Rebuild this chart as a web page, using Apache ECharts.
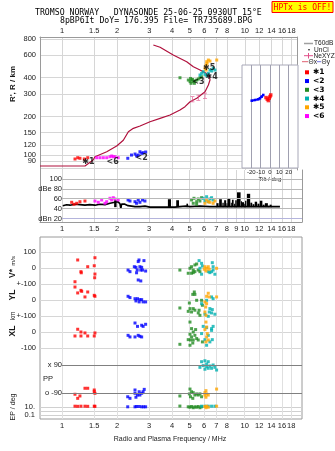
<!DOCTYPE html>
<html><head><meta charset="utf-8">
<script src="https://cdn.jsdelivr.net/npm/echarts@6/dist/echarts.min.js"></script>
<style>html,body{margin:0;padding:0;background:#fff}#c{width:335px;height:451px}</style>
</head><body><div id="c"></div><script>
// ---------- data ----------
const freqTicks = [1,1.5,2,3,4,5,6,7,8,10,12,14,16,18];
const freqTicksMid = [1,1.5,2,3,4,5,6,7,8,9,10,12,14,16,18];
const heightTicks = [80,90,100,120,150,200,300,400,600,800];
const dbTicks = [20,40,60,80,100];
const tiltTicks = [-20,-10,0,10,20];

const profileFreq = [0.758,1.336,1.48,1.515,1.757,1.991,2.165,2.307,2.457,2.673,3.03,3.44,3.9,4.42,4.71,5.02,5.46,6.06,6.32,6.45,6.40,5.69,5.23,4.81,4.06,3.44,3.16];
const profileHeight = [82.6,82.6,92,97.5,106.6,118,130.8,152.5,162,168.8,182.3,193.7,205.5,225,238.5,260.6,277,311.8,351.6,384.5,420,459,487.6,533,601,689.5,718];

const neFreq = [5.17,5.57,6.06];
const neHeight = [272,280,290];

const modeNames = ['✱1','<2','<3','✱4','✱5','<6'];
const modeColors = ['#ff0000','#0000ff','#228b22','#00b0b0','#ffa500','#ff00ff'];
const modeLabelFreq = [1.393,2.73,5.57,6.59,6.38,1.895];
const modeLabelHeight = [89.2,95.8,373,407,478,89.2];

// virtual heights (km)
const m1F = [1.178,1.219,1.254,1.324,1.383];
const m1H = [93.6,95.8,94.8,93.6,95.8];
const m2F = [2.29,2.40,2.51,2.56,2.67,2.73,2.78,2.87,2.614];
const m2H = [94.8,100.5,102.3,98.8,106.6,103.6,104.8,106.1,100.5];
const m3F = [4.42,4.91,5.02,5.12,5.23,5.34,5.46,5.57,5.69,5.81,5.08,5.30,5.05,5.18];
const m3H = [400,384,373,384,373,378,384,391,400,407,362,362,395,388];
const m4F = [5.81,5.93,6.06,6.19,6.32,6.59,6.72,6.87,5.69,6.45];
const m4H = [433,446,425,415,433,451,474,459,420,459];
const m5F = [6.19,6.32,6.45,6.14,6.06,7.02,6.22,6.14];
const m5H = [533,549,539,502,474,549,518,459];
const m6F = [1.548,1.614,1.683,1.757,1.831,1.871,1.909,1.95,2.03];
const m6H = [95.8,95.8,95.8,95.8,97.5,98.8,97.5,97.5,95.8];

// amplitudes (dB)
const noiseFreq = [1.01,1.06,1.106,1.178,1.254,1.336,1.42,1.515,1.614,1.719,1.831,1.95,2.02,2.075,2.10,2.12,2.21,2.30,2.51,2.67,2.845,3.03,3.44,3.80,4.15,4.42,4.77,5.02,5.69,6.45,7.3,8.3,9.4,10.7,12.1,13.75,15.6];
const noiseDb = [46,48,47,49,48,47,48,47,49,48,51,53,54,50,40,49,49,46,44,44,45,43,43,43,43,44,45,44,45,44,44,44,44,44,44,44,44];
const spikeBase = 43;
const spikeLo = [1.93,3.80,4.22,4.80,7.0,7.25,7.55,7.72,7.95,8.05,8.4,8.52,8.75,8.88,9.08,9.55,9.65,9.95,10.05,10.28,10.75,11.05,11.35,11.75,12.1,12.55,12.9,13.45,13.7];
const spikeHi = [1.99,3.95,4.37,4.90,7.2,7.5,7.68,7.92,8.02,8.35,8.5,8.7,8.85,9.05,9.5,9.62,9.92,10.02,10.22,10.72,11.0,11.3,11.7,12.05,12.5,12.85,13.4,13.65,14.05];
const spikeTop = [57,59,57,50,51,59,52,57,51,60,52,58,50,57,73,55,53,50,56,70,52,49,54,50,56,48,51,46,48];
const a1F = [1.13,1.204,1.254,1.336,1.163];
const a1D = [52.8,50.8,54,55.4,48.8];
const a2F = [2.30,2.356,2.51,2.614,2.67,2.76,2.845,2.56];
const a2D = [57.5,55.4,54,57.5,52.8,57.5,55.4,50.8];
const a3F = [5.12,5.28,5.46,5.57,5.69,5.23,5.81,5.46];
const a3D = [57.5,60.9,54,59.5,55.4,50.8,62.1,48.8];
const a4F = [5.93,6.19,6.45,6.59,6.72,6.06,6.32];
const a4D = [60.9,64.1,59.5,62.1,57.5,55.4,54];
const a5F = [6.19,6.32,6.45,6.87,6.72,6.06];
const a5D = [57.5,54,52.8,55.4,50.8,50.8];
const a6F = [1.515,1.58,1.649,1.757,1.831,1.871,1.909,1.95,2.03,1.719];
const a6D = [55.4,52.8,57.5,54,60.9,57.5,62.1,59.5,57.5,50.8];

// V* (m/s)
const v1F = [1.219,1.383,1.502,1.515,1.27,1.275,1.515,1.51,1.178];
const v1V = [52,10,16,66,-21,-28,-36,-59,-84];
const v2F = [2.30,2.356,2.489,2.54,2.614,2.64,2.81,2.67,2.73,2.56,2.58,2.70,2.76,2.87,2.614,2.70];
const v2V = [-11,-21,10,6,42,52,48,10,6,-28,-11,-11,-11,-17,-73,-79];
const v3F = [4.42,5.02,5.12,5.23,5.34,5.46,4.91,5.12,5.34,5.57,5.69,5.23];
const v3V = [-11,0,10,-11,21,27,-31,-31,-21,-11,-21,-27];
const v4F = [5.63,5.81,5.87,5.69,6.32,6.45,6.65,6.72,6.87,5.81,6.59,6.72];
const v4V = [48,31,14,0,-21,-27,35,-11,-37,-37,-21,10];
const v5F = [6.06,6.19,6.32,6.14,7.02,6.01,6.40];
const v5V = [10,0,10,-17,0,-6,-6];
// YL (km)
const y1F = [1.178,1.27,1.219,1.282,1.383,1.336,1.502,1.515];
const y1V = [83,62,46,56,52,21,31,25];
const y2F = [2.30,2.356,2.51,2.54,2.59,2.67,2.73,2.78,2.87,2.645];
const y2V = [25,17,10,-4,10,4,4,-10,-10,-10];
const y3F = [5.30,5.20,5.34,4.98,5.46,5.81,5.87,4.42,5.02,5.12,5.23,5.34,5.57,5.69,4.91,5.63];
const y3V = [52,37,37,-17,0,0,-31,-48,-52,-73,-52,-62,-79,-94,-69,-62];
const y4F = [5.81,6.19,6.59,6.72,6.45,6.65,6.40,6.06,6.32,6.87,6.59];
const y4V = [-21,0,21,10,-52,-58,-73,-87,-100,-87,-79];
const y5F = [6.32,6.19,6.40,7.02,6.06,6.19,6.12,6.06,6.14];
const y5V = [44,25,21,21,-10,-21,-42,-73,-94];
// XL (km)
const x1F = [1.219,1.27,1.336,1.178,1.27,1.383,1.515,1.502];
const x1V = [19,2,-4,-23,-23,-23,-4,-23];
const x2F = [2.51,2.59,2.73,2.78,2.87,2.30,2.356,2.51,2.614,2.67,2.73];
const x2V = [58,37,44,37,50,-19,-29,-29,-19,-25,-29];
const x3F = [5.02,5.12,5.39,5.23,5.02,5.12,5.34,4.91,5.05,5.23,5.46,5.57,4.42,5.02,5.20,5.87];
const x3V = [64,23,17,2,-12,-29,-19,-46,-48,-48,-39,-48,-75,-81,-67,-60];
const x4F = [5.93,6.19,6.59,6.72,6.59,5.81,6.32,6.06,6.65,6.19,6.45];
const x4V = [37,29,23,37,12,-8,-19,-46,-46,-81,-60];
const x5F = [6.14,6.19,6.06,6.24,6.19,6.32,6.14];
const x5V = [64,33,17,-8,-29,-48,-60];
// PP (deg)
const p1F = [1.178,1.219,1.254,1.336,1.383,1.502,1.515,1.502];
const p1V = [-96,-122,-107,-58,-58,-69,-90,-80];
const p2F = [2.29,2.356,2.51,2.51,2.59,2.645,2.73,2.78,2.82,2.67,2.54];
const p2V = [-112,-122,-69,-90,-101,-80,-90,-80,-65,-101,-115];
const p3F = [5.02,5.12,5.23,4.98,5.34,5.46,5.57,5.69,4.42,5.05,5.20,5.81];
const p3V = [-63,-80,-86,-94,-101,-94,-101,-94,-107,-112,-122,-112];
const p4F = [5.81,6.06,6.32,5.93,6.19,6.45,6.72,6.87,5.69,6.59,6.06,6.32,7.02,6.19];
const p4V = [111,117,111,86,79,84,90,75,75,69,63,69,58,96];
const p5F = [6.14,6.06,6.19,6.32,6.14,7.02,6.06];
const p5V = [-73,-86,-94,-101,-115,-63,-101];
// EP (deg)
const e1F = [1.178,1.219,1.27,1.336,1.383,1.502,1.515];
const e1V = [14,13,14,14,13,14,13];
const e2F = [2.29,2.51,2.56,2.645,2.73,2.80,2.87];
const e2V = [10,10,12,12,10,10,10];
const e3F = [4.42,4.91,5.02,5.12,5.23,5.34,5.46,5.57,5.69,5.81];
const e3V = [15,10,8,12,6,10,8,12,6,10];
const e4F = [5.81,6.06,6.32,6.59,6.87];
const e4V = [14,14,14,14,14];
const e5F = [6.06,6.14,6.19,6.32,7.02];
const e5V = [12,6,14,8,14];
// tilt (deg)
const tiltBlueX = [-19.6,-16.1,-12.5,-10.7,-8.9,-7.2];
const tiltBlueY = [16.9,17.6,18.4,19.4,21.2,23];
const tiltRedX = [-4.3,-2.9,-1.8,0,0.8,-0.8];
const tiltRedY = [20.2,18.5,17,21.3,23,19.6];

// ---------- chart ----------
const FMIN = 0.758, FMAX_TOP = 19.3, FMAX = 20.6;
const SANS = 'Liberation Sans';
const MONO = 'DejaVu Sans Mono';
const GRIDC = '#d6d6d6', BORDER = '#9a9a9a', LBL = '#1a1a1a';
const pts = (a, b) => a.map((v, i) => [v, b[i]]);

function xLog(grid, max, extra) {
  return Object.assign({
    type: 'log', logBase: 10, gridIndex: grid, min: FMIN, max: max,
    axisLine: { show: false, onZero: false }, axisTick: { show: false, customValues: freqTicks },
    axisLabel: { show: false, customValues: freqTicks },
    splitLine: { show: false }
  }, extra || {});
}
const lblStyle = { fontFamily: SANS, fontSize: 7.5, color: LBL, hideOverlap: false };

const xAxis = [
  xLog(0, FMAX_TOP, { position: 'top', axisLine: { show: true, onZero: false, lineStyle: { color: BORDER } },
    axisLabel: Object.assign({ show: true, margin: 2, customValues: freqTicks }, lblStyle),
    splitLine: { show: true, lineStyle: { color: GRIDC, width: 1 } } }),
  xLog(1, FMAX, { position: 'bottom', axisLine: { show: true, onZero: false, lineStyle: { color: BORDER } },
    axisTick: { show: false, customValues: freqTicksMid },
    axisLabel: Object.assign({ show: true, margin: 3, customValues: freqTicksMid }, lblStyle),
    splitLine: { show: true, lineStyle: { color: GRIDC, width: 1 } } }),
  xLog(2, FMAX, { position: 'bottom',
    axisLabel: Object.assign({ show: true, margin: 3, customValues: freqTicks }, lblStyle),
    splitLine: { show: true, lineStyle: { color: '#e0e0e0', width: 1 } } }),
  xLog(3, FMAX), xLog(4, FMAX), xLog(5, FMAX), xLog(6, FMAX), xLog(7, FMAX),
  { type: 'value', gridIndex: 8, min: -30, max: 30, z: 2,
    axisLine: { show: false, onZero: false }, axisTick: { show: false, customValues: tiltTicks },
    axisLabel: { show: true, customValues: tiltTicks, fontFamily: SANS, fontSize: 6, color: LBL, margin: 1, hideOverlap: false },
    splitLine: { show: true, lineStyle: { color: '#a0a0b0', width: 1 } },
    name: 'Tilt / deg', nameLocation: 'middle', nameGap: 8, nameTextStyle: { fontFamily: SANS, fontSize: 6, color: LBL } }
];

function rightBorder(grid) {
  return { type: 'value', gridIndex: grid, position: 'right', axisLine: { show: true, onZero: false, lineStyle: { color: BORDER } },
    axisTick: { show: false }, axisLabel: { show: false }, splitLine: { show: false } };
}
function subY(grid, ticks, fmt) {
  return { type: 'value', gridIndex: grid, min: -100, max: 100,
    axisLine: { show: false, onZero: false }, axisTick: { show: false, customValues: [-100, 0, 100] },
    axisLabel: Object.assign({ show: true, margin: 4, customValues: ticks, formatter: fmt }, lblStyle),
    splitLine: { show: true, lineStyle: { color: GRIDC, width: 1 } } };
}
const yAxis = [
  { type: 'log', logBase: 10, gridIndex: 0, min: 76.9, max: 828.6,
    axisLine: { show: true, onZero: false, lineStyle: { color: BORDER } }, axisTick: { show: false, customValues: heightTicks },
    axisLabel: Object.assign({ show: true, margin: 4, customValues: heightTicks }, lblStyle),
    splitLine: { show: true, lineStyle: { color: GRIDC, width: 1 } } },
  rightBorder(0),
  { type: 'value', gridIndex: 1, min: 12.9, max: 118.2,
    axisLine: { show: true, onZero: false, lineStyle: { color: BORDER } }, axisTick: { show: false, customValues: dbTicks },
    axisLabel: Object.assign({ show: true, margin: -22, align: 'right', padding: [0, 0, 4, 0], customValues: dbTicks,
      formatter: v => v === 80 ? 'dBe 80' : (v === 20 ? 'dBn 20' : String(v)) }, lblStyle),
    splitLine: { show: false } },
  rightBorder(1),
  { type: 'value', gridIndex: 2, min: 0, max: 1, show: false },
  subY(3, [0, 100], v => String(v)),
  subY(4, [0, 100], v => v === 100 ? '+-100' : '0'),
  subY(5, [-100, 0, 100], v => v === 100 ? '+-100' : String(v)),
  { type: 'value', gridIndex: 6, min: -90, max: 90,
    axisLine: { show: false, onZero: false }, axisTick: { show: false, customValues: [-90, 90] },
    axisLabel: Object.assign({ show: true, margin: -22, align: 'right', customValues: [-90, 90],
      formatter: v => v > 0 ? 'x 90' : 'o -90' }, lblStyle),
    splitLine: { show: false } },
  { type: 'log', logBase: 10, gridIndex: 7, min: 0.01, max: 1000,
    axisLine: { show: false, onZero: false }, axisTick: { show: false, customValues: [0.1, 1, 10] },
    axisLabel: Object.assign({ show: true, margin: 5, customValues: [0.1, 10], formatter: v => v >= 1 ? '10.' : '0.1' }, lblStyle),
    splitLine: { show: true, lineStyle: { color: '#d0d0d0', width: 1 } } },
  { type: 'value', gridIndex: 8, min: -55, max: 55, z: 2,
    axisLine: { show: false, onZero: false }, axisTick: { show: false }, axisLabel: { show: false }, splitLine: { show: false } }
];

const grid = [
  { left: 40, top: 37, width: 257, height: 133 },
  { left: 40, top: 170, width: 262, height: 52 },
  { left: 40, top: 237, width: 262, height: 182, show: true, borderColor: BORDER, borderWidth: 1, backgroundColor: 'transparent' },
  { left: 40, top: 252.3, width: 262, height: 32 },
  { left: 40, top: 284.3, width: 262, height: 32 },
  { left: 40, top: 316.3, width: 262, height: 32 },
  { left: 40, top: 365, width: 262, height: 28.3 },
  { left: 40, top: 398.5, width: 262, height: 20.75 },
  { left: 242, top: 65, width: 56, height: 103, show: true, borderColor: '#a8a8b8', borderWidth: 1, backgroundColor: '#fff', z: 1 }
].map(g => Object.assign({ containLabel: false, outerBoundsMode: 'none' }, g));

function sc(xi, yi, data, color, size, z) {
  return { type: 'scatter', xAxisIndex: xi, yAxisIndex: yi, data: data, symbol: 'rect', symbolSize: size || 3,
    itemStyle: { color: color }, silent: true, clip: false, animation: false, z: z || 3 };
}
const series = [];
// profile
series.push({ type: 'line', xAxisIndex: 0, yAxisIndex: 0, data: pts(profileFreq, profileHeight), showSymbol: false,
  lineStyle: { color: '#b0103c', width: 1.2 }, silent: true, animation: false, z: 2 });
// NeXYZ
series.push({ type: 'scatter', xAxisIndex: 0, yAxisIndex: 0, data: pts(neFreq, neHeight),
  symbol: 'path://M0,0h5v1h-2v6h2v1h-5v-1h2v-6h-2z', symbolSize: [4, 6], itemStyle: { color: '#e0508a' }, silent: true, animation: false, z: 3 });
// virtual heights
const topF = [m1F, m2F, m3F, m4F, m5F, m6F], topH = [m1H, m2H, m3H, m4H, m5H, m6H];
topF.forEach((f, i) => series.push(sc(0, 0, pts(f, topH[i]), modeColors[i], 3)));
// mode labels
modeNames.forEach((n, i) => series.push({ type: 'scatter', xAxisIndex: 0, yAxisIndex: 0, data: [[modeLabelFreq[i], modeLabelHeight[i]]],
  symbolSize: 0, silent: true, animation: false, z: 4,
  label: { show: true, position: 'inside', formatter: n, fontFamily: 'DejaVu Sans', fontSize: 8, fontWeight: 'bold', color: '#000' } }));
// amplitude noise line with dB grid lines
series.push({ type: 'line', xAxisIndex: 1, yAxisIndex: 2, data: pts(noiseFreq, noiseDb), showSymbol: false,
  lineStyle: { color: '#000', width: 1.6 }, silent: true, animation: false, z: 2,
  markLine: { silent: true, symbol: 'none', animation: false, label: { show: false },
    data: dbTicks.map(d => [{ coord: [1, d], lineStyle: { color: d === 20 ? '#b4b4dc' : '#b8b8b8', width: 1, type: 'solid' } }, { coord: [FMAX, d] }]) } });
series.push({ type: 'custom', xAxisIndex: 1, yAxisIndex: 2, data: spikeLo.map((lo, i) => [lo, spikeHi[i], spikeTop[i]]),
  encode: { x: [0, 1], y: 2 }, silent: true, animation: false, z: 2,
  renderItem: (params, api) => {
    const p0 = api.coord([api.value(0), spikeBase]);
    const p1 = api.coord([api.value(1), api.value(2)]);
    return { type: 'rect', shape: { x: p0[0], y: p1[1], width: Math.max(1, p1[0] - p0[0]), height: p0[1] - p1[1] }, style: { fill: '#000' } };
  } });
const ampF = [a1F, a2F, a3F, a4F, a5F, a6F], ampD = [a1D, a2D, a3D, a4D, a5D, a6D];
ampF.forEach((f, i) => series.push(sc(1, 2, pts(f, ampD[i]), modeColors[i], 3)));
// lower panels
const lower = [
  [3, 5, [v1F, v2F, v3F, v4F, v5F], [v1V, v2V, v3V, v4V, v5V]],
  [4, 6, [y1F, y2F, y3F, y4F, y5F], [y1V, y2V, y3V, y4V, y5V]],
  [5, 7, [x1F, x2F, x3F, x4F, x5F], [x1V, x2V, x3V, x4V, x5V]],
  [6, 8, [p1F, p2F, p3F, p4F, p5F], [p1V, p2V, p3V, p4V, p5V]],
  [7, 9, [e1F, e2F, e3F, e4F, e5F], [e1V, e2V, e3V, e4V, e5V]]
];
lower.forEach(([xi, yi, fs, vs]) => fs.forEach((f, i) => series.push(sc(xi, yi, pts(f, vs[i]), modeColors[i], 3))));
// PP reference lines
series.push({ type: 'line', xAxisIndex: 6, yAxisIndex: 8, data: [], silent: true, animation: false,
  markLine: { silent: true, symbol: 'none', animation: false, label: { show: false },
    lineStyle: { color: '#808080', width: 1, type: 'solid' },
    data: [[{ coord: [1, 90] }, { coord: [FMAX, 90] }], [{ coord: [1, -90] }, { coord: [FMAX, -90] }]] } });
// tilt
series.push({ type: 'line', xAxisIndex: 8, yAxisIndex: 10, data: pts(tiltBlueX, tiltBlueY), symbol: 'rect', symbolSize: 2.5,
  lineStyle: { color: '#0000ff', width: 2 }, itemStyle: { color: '#0000ff' }, silent: true, animation: false, z: 5 });
series.push(sc(8, 10, pts(tiltRedX, tiltRedY), '#ff0000', 3.5, 6));

// ---------- text & legend ----------
const g = [];
const txt = (x, y, text, o) => g.push(Object.assign({ type: 'text', x: x, y: y, silent: true,
  style: Object.assign({ text: text, font: '7.5px ' + SANS, fill: LBL, align: 'left', verticalAlign: 'middle' }, (o && o.style) || {}) },
  o && o.rotation ? { rotation: o.rotation } : {}));
txt(35, 12.5, 'TROMSO NORWAY   DYNASONDE 25-06-25 0930UT 15°E', { style: { font: '8.2px ' + MONO, fill: '#000' } });
txt(60, 21, '8pBP6It DoY= 176.395 File= TR735689.BPG', { style: { font: '8.2px ' + MONO, fill: '#000' } });
g.push({ type: 'rect', shape: { x: 272, y: 1.5, width: 61, height: 11 }, style: { fill: '#ffff00', stroke: '#ff0000', lineWidth: 1 }, silent: true });
txt(302.5, 7.5, 'HPTx is OFF!', { style: { font: '8px ' + MONO, fill: '#ff0000', align: 'center' } });
const rot = Math.PI / 2;
txt(13, 84, "R', R / km", { rotation: rot, style: { font: 'bold 8px ' + SANS, align: 'center' } });
g.push({ type: 'text', x: 13, y: 267, rotation: rot, silent: true,
  style: { text: '{a|V*} {b|m/s}', align: 'center', verticalAlign: 'middle', fill: LBL,
    rich: { a: { font: 'bold 8.5px ' + SANS, fill: LBL }, b: { font: '6px ' + SANS, fill: LBL } } } });
txt(13, 295, 'YL', { rotation: rot, style: { font: 'bold 8.5px ' + SANS, align: 'center' } });
txt(13, 316, 'km', { rotation: rot, style: { font: '6.5px ' + SANS, align: 'center' } });
txt(13, 331, 'XL', { rotation: rot, style: { font: 'bold 8.5px ' + SANS, align: 'center' } });
txt(43, 379, 'PP', { style: { font: '7.5px ' + SANS } });
txt(13, 407, 'EP / deg', { rotation: rot, style: { font: '7px ' + SANS, align: 'center' } });
txt(170, 439, 'Radio and Plasma Frequency / MHz', { style: { font: '7px ' + SANS, align: 'center' } });
// legend
const LEG = '6.6px ' + SANS;
g.push({ type: 'line', shape: { x1: 304, y1: 43.5, x2: 313, y2: 43.5 }, style: { stroke: '#a0a0a0', lineWidth: 1.5 }, silent: true });
txt(314, 43.5, 'T60dB', { style: { font: LEG } });
g.push({ type: 'circle', shape: { cx: 309, cy: 49.7, r: 0.8 }, style: { fill: '#000' }, silent: true });
txt(314, 49.7, 'UnCl', { style: { font: LEG } });
g.push({ type: 'line', shape: { x1: 304, y1: 55.7, x2: 313, y2: 55.7 }, style: { stroke: '#e0508a', lineWidth: 1 }, silent: true });
g.push({ type: 'line', shape: { x1: 308.5, y1: 53, x2: 308.5, y2: 58.5 }, style: { stroke: '#e0508a', lineWidth: 1 }, silent: true });
txt(313.5, 55.7, 'NeXYZ', { style: { font: LEG } });
g.push({ type: 'line', shape: { x1: 302, y1: 61.7, x2: 308, y2: 61.7 }, style: { stroke: '#e06070', lineWidth: 1 }, silent: true });
txt(308.5, 61.7, 'Θx', { style: { font: LEG } });
g.push({ type: 'line', shape: { x1: 317, y1: 61.7, x2: 321, y2: 61.7 }, style: { stroke: '#7070e0', lineWidth: 1 }, silent: true });
txt(321.5, 61.7, 'Θy', { style: { font: LEG } });
modeNames.forEach((n, i) => {
  const y = 72.3 + i * 8.75;
  g.push({ type: 'rect', shape: { x: 305, y: y - 2, width: 4, height: 4 }, style: { fill: modeColors[i] }, silent: true });
  txt(313, y, n, { style: { font: 'bold 7.5px DejaVu Sans', fill: '#000' } });
});

const chart = echarts.init(document.getElementById('c'), null, { renderer: 'canvas' });
chart.setOption({ animation: false, backgroundColor: '#fff', grid: grid, xAxis: xAxis, yAxis: yAxis, series: series, graphic: g });
</script></body></html>
